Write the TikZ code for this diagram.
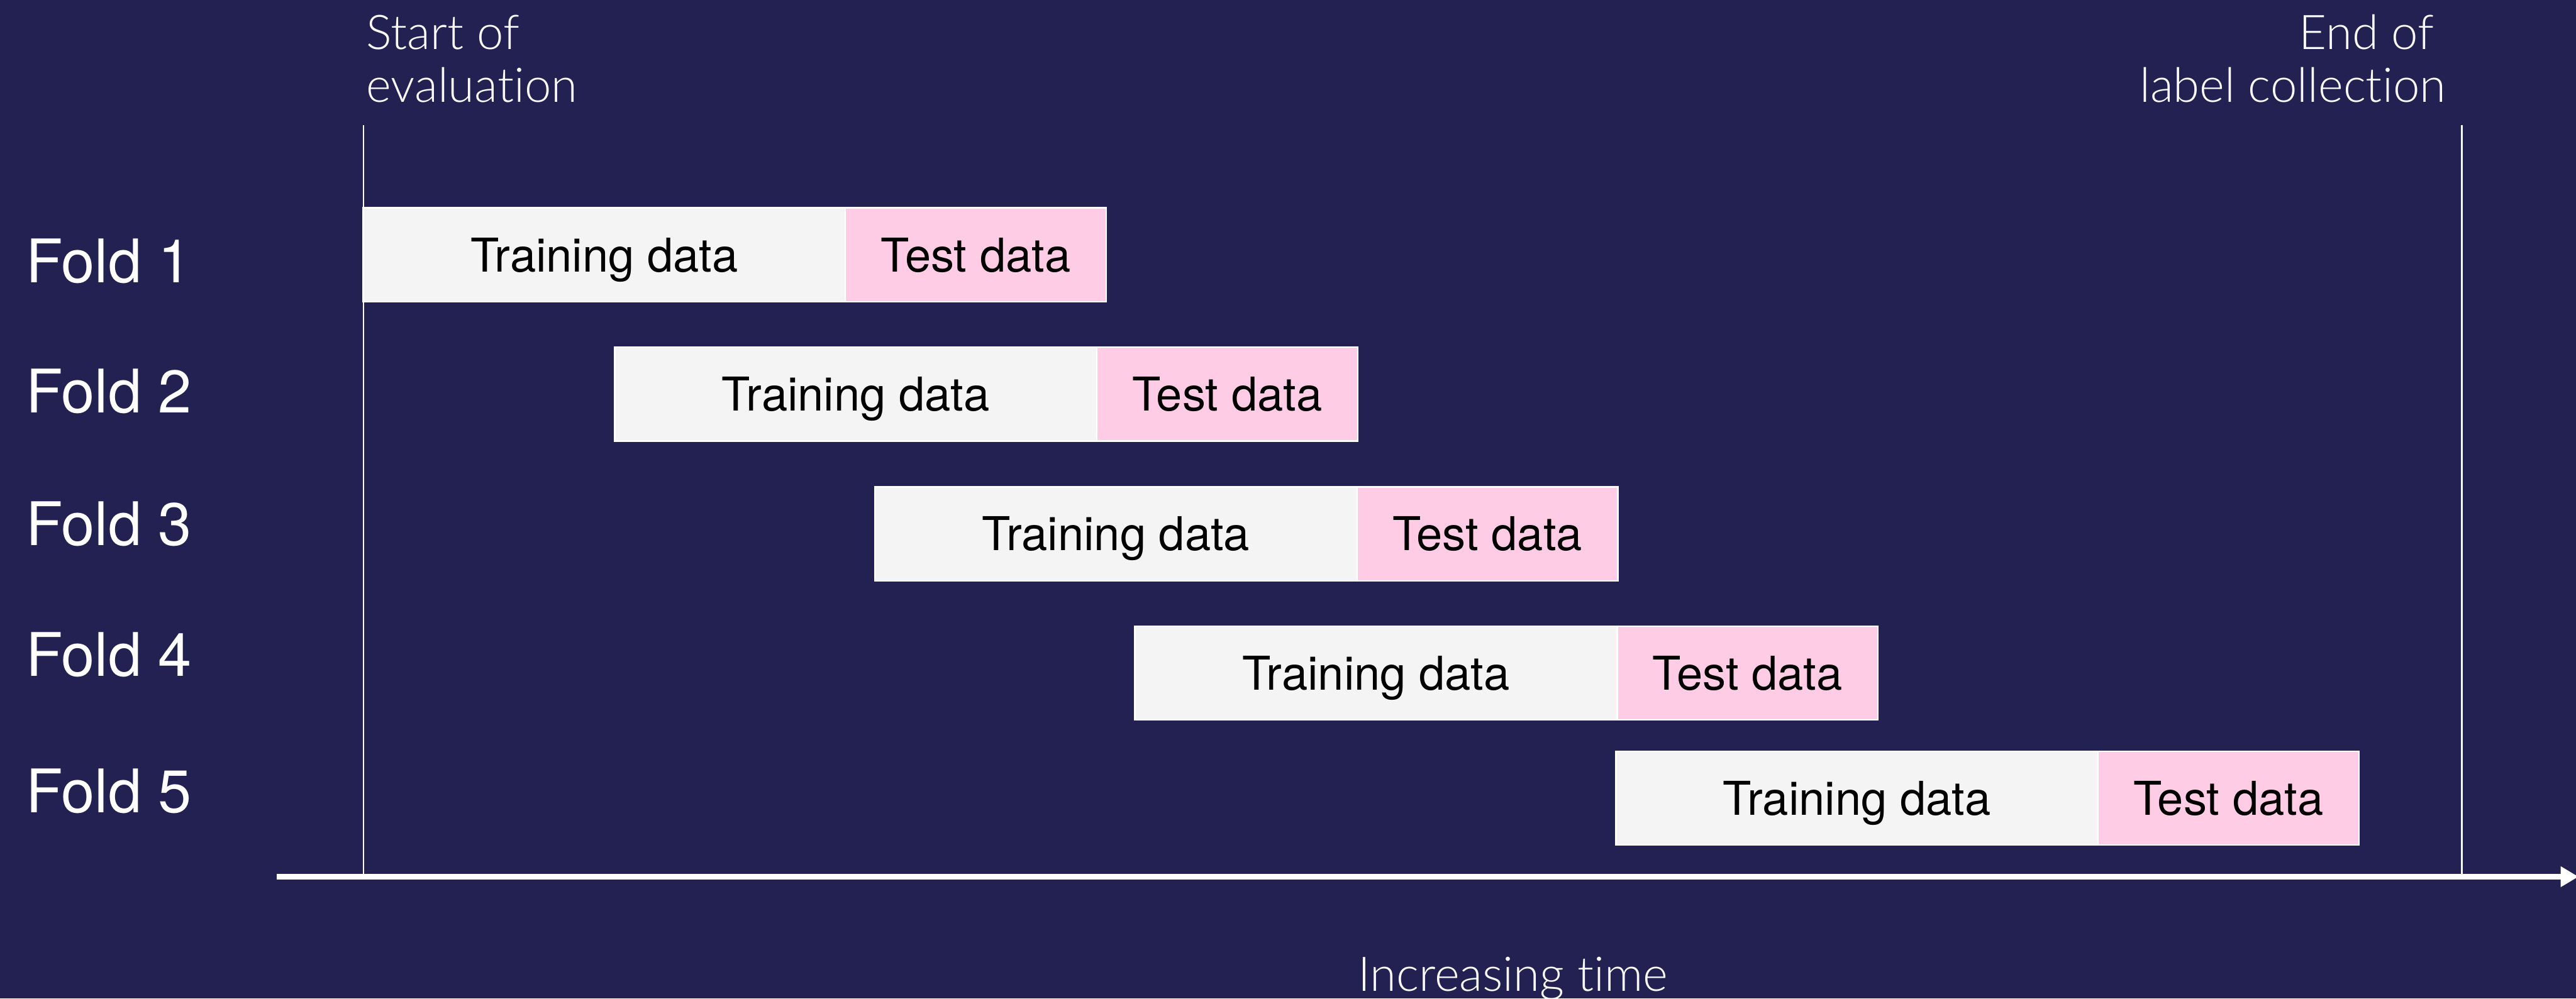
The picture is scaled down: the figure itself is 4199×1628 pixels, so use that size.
\documentclass[tikz,border=0pt]{standalone}
\usepackage{fontspec}
\setmainfont{TeX Gyre Heros}
\newfontfamily\lightfont{Lato Light}[Ligatures={NoCommon}]
\usetikzlibrary{arrows.meta}
\definecolor{bgnavy}{RGB}{35,33,82}
\definecolor{trainfill}{RGB}{244,244,244}
\definecolor{testfill}{RGB}{255,204,229}
\definecolor{linewhite}{RGB}{250,250,250}
\begin{document}
\begin{tikzpicture}[x=1pt,y=-1pt,
  databox/.style={draw=white, line width=2.5pt, anchor=north west, inner sep=0pt, outer sep=0pt,
    minimum height=153pt, text=black, font=\fontsize{76}{87}\selectfont,
    text height=55pt, text depth=0pt},
  trainbox/.style={databox, fill=trainfill, minimum width=786pt},
  testbox/.style={databox, fill=testfill, minimum width=425pt},
  foldlabel/.style={anchor=base west, inner sep=0pt, text=white, font=\fontsize{98}{100}\selectfont},
  lightlabel/.style={inner sep=0pt, text=linewhite, font=\lightfont\fontsize{78}{87}\selectfont},
  guide/.style={draw=linewhite, line width=3pt},
  axisline/.style={draw=white, line width=10pt, -{Triangle[width=32pt,length=29pt]}}
]
\useasboundingbox (0,0) rectangle (4199,1628);
\fill[bgnavy] (0,0) rectangle (4199,1628);

% guide lines and axis
\coordinate (a0) at (451,1429.5);
\coordinate (a1) at (4203,1429.5);
\coordinate (ls) at (592.5,204);
\coordinate (rs) at (4012.5,204);
\coordinate (lb) at (592.5,1425);
\coordinate (rb) at (4012.5,1425);
\draw[guide] (ls) -- (lb);
\draw[guide] (rs) -- (rb);
\draw[axisline] (a0) -- (a1);

% folds
\node[trainbox] (t1) at (592,339) {Training data};
\node[testbox]  (s1) at (t1.north east) {Test data};
\node[trainbox] (t2) at (1002,566) {Training data};
\node[testbox]  (s2) at (t2.north east) {Test data};
\node[trainbox] (t3) at (1426,794) {Training data};
\node[testbox]  (s3) at (t3.north east) {Test data};
\node[trainbox] (t4) at (1850,1021) {Training data};
\node[testbox]  (s4) at (t4.north east) {Test data};
\node[trainbox] (t5) at (2634,1225) {Training data};
\node[testbox]  (s5) at (t5.north east) {Test data};

% fold labels
\node[foldlabel] (f1) at (42,461) {Fold 1};
\node[foldlabel] (f2) at (42,673) {Fold 2};
\node[foldlabel] (f3) at (42,889) {Fold 3};
\node[foldlabel] (f4) at (42,1103) {Fold 4};
\node[foldlabel] (f5) at (42,1325) {Fold 5};

% light labels (base anchor = last line's baseline)
\node[lightlabel, anchor=base west, align=left] (start) at (597,167) {Start of\\evaluation};
\node[lightlabel, anchor=base east, align=right] (end) at (3987,167) {End of\hspace*{19pt}\\label collection};
\node[lightlabel, anchor=base] (time) at (2466,1616) {Increasing time};
\end{tikzpicture}
\end{document}
